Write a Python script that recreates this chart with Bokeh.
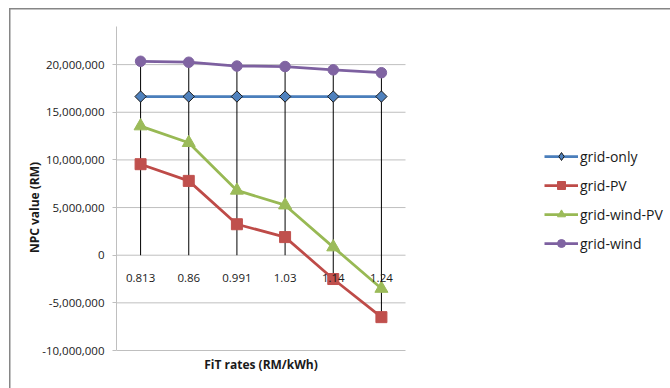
import math
from bokeh.plotting import figure
from bokeh.models import (Range1d, FixedTicker, NumeralTickFormatter,
                          Legend, LegendItem, Label)
from bokeh.embed import file_html
from bokeh.resources import INLINE

categories = ["0.813", "0.86", "0.991", "1.03", "1.14", "1.24"]
grid_only = [16650000, 16650000, 16650000, 16650000, 16650000, 16650000]
grid_pv = [9550000, 7800000, 3250000, 1900000, -2500000, -6500000]
grid_wind_pv = [13550000, 11800000, 6800000, 5250000, 850000, -3500000]
grid_wind = [20350000, 20250000, 19850000, 19800000, 19450000, 19150000]
y_ticks = [-10000000, -5000000, 0, 5000000, 10000000, 15000000, 20000000]

FONT = "Open Sans"
GRAY = "#bfbfbf"
TXT = "#1a1a1a"

n = len(categories)
xs = [i + 0.5 for i in range(n)]

# layout: plot area 116..405 px wide, 26..350 px tall; frame extended right/bottom
W, H = 670, 388
left, top = 116, 26
plot_w, plot_h = 289, 324
y_min, y_max = y_ticks[0], 24000000
unit_y = (y_max - y_min) / plot_h
x_end = n * (W - left) / plot_w
y_start = y_min - (H - top - plot_h) * unit_y

border_css = ("linear-gradient(#868686, #868686) 9px 8px / 700px 1.5px no-repeat, "
              "linear-gradient(#868686, #868686) 9px 8px / 1.5px 420px no-repeat")

p = figure(width=W, height=H, x_range=Range1d(0, x_end), y_range=Range1d(y_start, y_max),
           output_backend="svg", toolbar_location=None, min_border_left=left,
           min_border_right=0, min_border_top=top, min_border_bottom=0,
           outline_line_color=None, border_fill_alpha=0, styles={"background": border_css})

p.xgrid.visible = False
p.ygrid.visible = False

# horizontal gridlines over the plot area
p.segment(x0=[0] * len(y_ticks), x1=[n] * len(y_ticks), y0=y_ticks, y1=y_ticks,
          line_color=GRAY, line_width=1)

# drop lines
lo = [min(0, a, b, c, d) for a, b, c, d in zip(grid_only, grid_pv, grid_wind_pv, grid_wind)]
hi = [max(0, a, b, c, d) for a, b, c, d in zip(grid_only, grid_pv, grid_wind_pv, grid_wind)]
p.segment(x0=xs, y0=lo, x1=xs, y1=hi, line_color="#000000", line_width=1)

series = [
    ("grid-only", grid_only, "#4a7ebb", "#4f81bd", "#1a1a1a", "square", 8, math.pi / 4),
    ("grid-PV", grid_pv, "#be4b48", "#c0504d", "#c0504d", "square", 11, 0),
    ("grid-wind-PV", grid_wind_pv, "#98b954", "#9bbb59", "#9bbb59", "triangle", 13, 0),
    ("grid-wind", grid_wind, "#7d60a0", "#8064a2", "#8064a2", "circle", 10.5, 0),
]
items = []
for name, vals, lc, fc, oc, mk, sz, ang in series:
    r1 = p.line(xs, vals, line_color=lc, line_width=2.75)
    r2 = p.scatter(xs, vals, marker=mk, size=sz, angle=ang, fill_color=fc,
                   line_color=oc, line_width=1)
    if ang:
        # legend swatch: diamond shape (legend glyphs ignore the marker angle)
        r2 = p.scatter(xs, vals, marker="diamond", size=12, fill_color=fc,
                       line_color=oc, line_width=1, visible=False)
    items.append(LegendItem(label=name, renderers=[r1, r2]))

legend = Legend(items=items, location=(428, 135), orientation="vertical",
                glyph_width=34, glyph_height=20, label_height=20, spacing=9,
                label_standoff=2, padding=0, margin=0, border_line_color=None,
                background_fill_alpha=0, inactive_fill_alpha=0, label_text_font=FONT,
                label_text_font_size="14px", label_text_color=TXT)
p.add_layout(legend)

# y axis
p.yaxis.bounds = (y_min, y_max)
p.yaxis.ticker = FixedTicker(ticks=y_ticks)
p.yaxis.formatter = NumeralTickFormatter(format="0,0")
p.yaxis.axis_line_color = GRAY
p.yaxis.major_tick_line_color = GRAY
p.yaxis.major_tick_out = 4
p.yaxis.major_tick_in = 0
p.yaxis.minor_tick_line_color = None
p.yaxis.major_label_text_font = FONT
p.yaxis.major_label_text_font_size = "11.5px"
p.yaxis.major_label_text_color = TXT
p.yaxis.major_label_standoff = 8
p.yaxis.axis_label = "NPC value (RM)"
p.yaxis.axis_label_text_font = FONT
p.yaxis.axis_label_text_font_style = "bold"
p.yaxis.axis_label_text_font_size = "12px"
p.yaxis.axis_label_text_color = TXT
p.yaxis.axis_label_standoff = -4

# x axis (category labels) at zero
p.xaxis.fixed_location = 0
p.xaxis.bounds = (0, n)
p.xaxis.ticker = FixedTicker(ticks=xs)
p.xaxis.major_label_overrides = {x: c for x, c in zip(xs, categories)}
p.xaxis.axis_line_color = None
p.xaxis.major_tick_line_color = None
p.xaxis.minor_tick_line_color = None
p.xaxis.major_label_text_font = FONT
p.xaxis.major_label_text_font_size = "11.5px"
p.xaxis.major_label_text_color = TXT
p.xaxis.major_label_standoff = 13

p.add_layout(Label(x=n / 2, y=y_min - 14 * unit_y, text="FiT rates (RM/kWh)",
                   text_font=FONT, text_font_style="bold", text_font_size="12px",
                   text_color=TXT, text_align="center", text_baseline="middle"))

open("out.html", "w").write(file_html(p, INLINE))
